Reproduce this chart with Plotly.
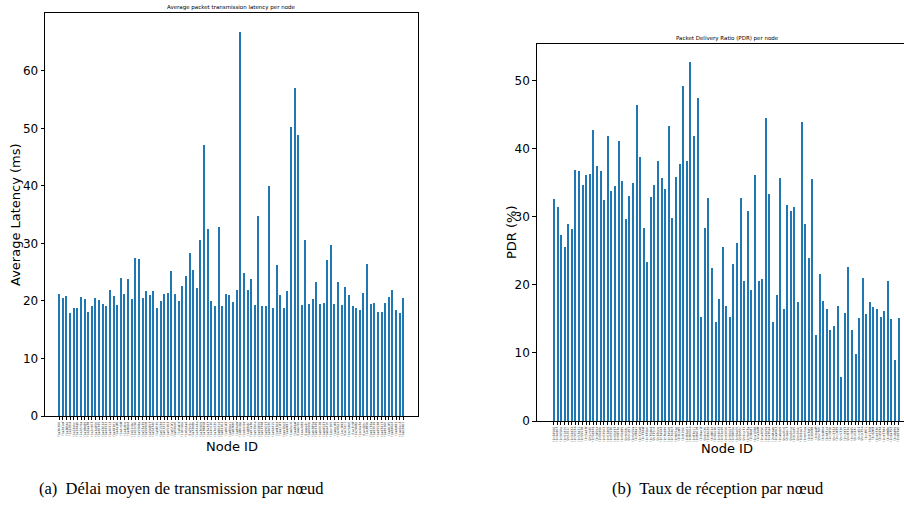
import plotly.graph_objects as go

W, H = 904, 511

latency_ms = [21.2, 20.5, 20.8, 17.9, 18.7, 18.8, 20.6, 20.3, 18.1, 19.0, 20.5, 20.1, 19.5, 19.1, 21.9, 20.8,
              19.3, 23.9, 21.1, 23.8, 20.2, 27.4, 27.2, 20.5, 21.6, 21.0, 21.6, 18.8, 19.9, 21.1, 21.3, 25.2,
              21.1, 19.9, 22.6, 24.2, 28.2, 25.4, 22.2, 30.6, 47.1, 32.5, 19.9, 19.0, 32.8, 19.1, 21.2, 21.0,
              19.8, 21.9, 66.7, 24.8, 21.9, 23.7, 19.3, 34.8, 19.1, 19.0, 40.0, 18.8, 26.2, 20.9, 18.8, 21.6,
              50.1, 57.0, 48.8, 19.2, 30.6, 19.5, 20.2, 23.2, 19.4, 19.6, 27.0, 29.6, 19.5, 23.3, 19.2, 22.3,
              21.0, 19.0, 18.8, 18.4, 21.4, 26.4, 19.5, 19.6, 18.1, 18.1, 19.6, 20.6, 21.9, 18.4, 17.9, 20.5]

pdr_pct = [32.6, 31.5, 27.3, 25.6, 29.0, 28.2, 36.9, 36.8, 34.7, 36.1, 36.3, 42.8, 37.5, 36.8, 32.5, 41.9,
           33.8, 34.5, 41.2, 35.3, 29.7, 33.1, 35.0, 46.4, 38.8, 28.4, 23.4, 32.9, 34.7, 38.2, 35.7, 34.1,
           43.3, 29.8, 35.8, 37.7, 49.3, 38.2, 52.8, 41.9, 47.5, 15.3, 28.4, 32.7, 22.5, 14.6,
           18.0, 25.5, 16.9, 15.3, 23.0, 26.1, 32.8, 20.6, 30.8, 19.3, 36.2, 20.6, 20.8, 44.5, 33.3, 14.5,
           18.5, 35.7, 16.4, 31.8, 30.8, 31.5, 17.5, 43.9, 29.0, 23.9, 35.6, 12.6, 21.6, 17.7, 16.5, 13.3,
           13.9, 16.9, 6.5, 15.8, 22.7, 13.3, 9.9, 15.2, 21.0, 15.7, 17.5, 16.8, 16.5, 15.3, 16.2, 20.6,
           15.0, 9.0, 15.1]

# node id tick labels (too small to read in the reference; placeholder ids)
nodes_a = ["!%07x" % (0x1a2b300 + 7919 * i) for i in range(len(latency_ms))]
nodes_b = ["!%07x" % (0x2c4d500 + 6151 * i) for i in range(len(pdr_pct))]

yticks_a = [0, 10, 20, 30, 40, 50, 60]
yticks_b = [0, 10, 20, 30, 40, 50]

BAR = "#1f77b4"

def px(x):
    return x / W

def py(y):
    return 1 - y / H

fig = go.Figure()
fig.add_trace(go.Bar(x=list(range(len(latency_ms))), y=latency_ms, width=0.32,
                     marker=dict(color=BAR, line=dict(width=0)), xaxis="x", yaxis="y"))
fig.add_trace(go.Bar(x=list(range(len(pdr_pct))), y=pdr_pct, width=0.32,
                     marker=dict(color=BAR, line=dict(width=0)), xaxis="x2", yaxis="y2"))

axis_common = dict(showgrid=False, zeroline=False, showline=True, linecolor="black", linewidth=0.8,
                   ticks="outside", ticklen=3.5, tickwidth=0.8, tickcolor="black", automargin=False)
tickfont_y = dict(family="DejaVu Sans", size=12, color="black")
tickfont_x = dict(family="DejaVu Sans", size=3.2, color="#333")

fig.update_layout(
    width=W, height=H, margin=dict(l=0, r=0, t=0, b=0, autoexpand=False),
    paper_bgcolor="white", plot_bgcolor="white", showlegend=False, bargap=0,
    xaxis=dict(domain=[px(45), px(418)], range=[-3.95, 99.05], anchor="y", mirror=True,
               tickmode="array", tickvals=list(range(len(nodes_a))), ticktext=nodes_a,
               tickangle=-90, tickfont=tickfont_x, **axis_common),
    yaxis=dict(domain=[py(416), py(13.3)], range=[0, 70.0], anchor="x", mirror=True,
               tickmode="array", tickvals=yticks_a, tickfont=tickfont_y, **axis_common),
    xaxis2=dict(domain=[px(536.7), 1.0], range=[-4.74, 97.57], anchor="y2", mirror=True,
                tickmode="array", tickvals=list(range(len(nodes_b))), ticktext=nodes_b,
                tickangle=-90, tickfont=tickfont_x, **axis_common),
    yaxis2=dict(domain=[py(421), py(44)], range=[0, 55.4], anchor="x2",
                tickmode="array", tickvals=yticks_b, tickfont=tickfont_y, **axis_common),
)

def ann(text, x, y, size, family="DejaVu Sans", angle=0):
    fig.add_annotation(text=text, x=px(x), y=py(y), xref="paper", yref="paper",
                       showarrow=False, textangle=angle, xanchor="center", yanchor="middle",
                       font=dict(family=family, size=size, color="black"))

ann("Average packet transmission latency per node", 231.5, 7.5, 5.5)
ann("Packet Delivery Ratio (PDR) per node", 727.5, 38.7, 5.5)
ann("Average Latency (ms)", 15, 215, 13, angle=-90)
ann("PDR (%)", 511, 232, 13, angle=-90)
ann("Node ID", 232, 446, 13)
ann("Node ID", 727, 448, 13)
ann("(a)  Délai moyen de transmission par nœud", 181, 488, 16.5, family="Liberation Serif")
ann("(b)  Taux de réception par nœud", 718, 488, 16.5, family="Liberation Serif")

fig.write_html("out.html", config={"displayModeBar": False},
               post_script="document.body.style.margin='0';")
